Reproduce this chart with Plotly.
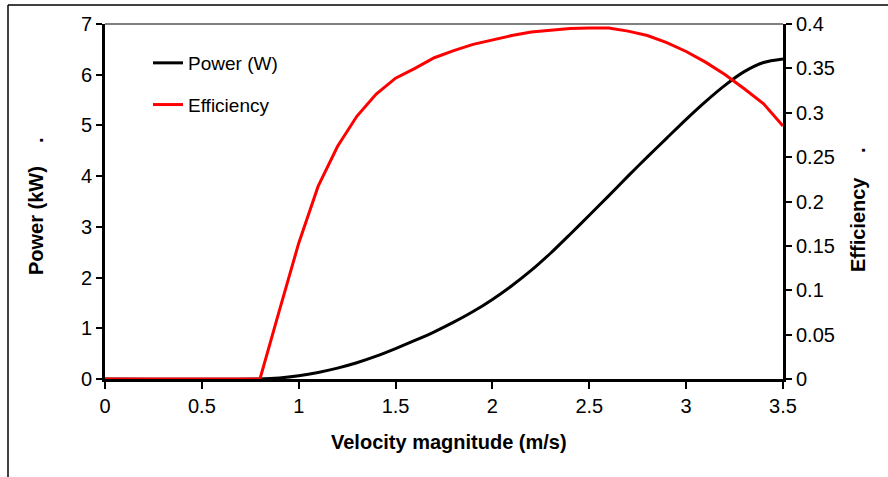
import plotly.graph_objects as go

# Velocity magnitude (m/s)
velocity = [0.0, 0.8, 0.9, 1.0, 1.1, 1.2, 1.3, 1.4, 1.5, 1.6, 1.7, 1.8, 1.9, 2.0,
            2.1, 2.2, 2.3, 2.4, 2.5, 2.6, 2.7, 2.8, 2.9, 3.0, 3.1, 3.2, 3.3, 3.4, 3.5]
# Power (kW)
power = [0.0, 0.0, 0.02, 0.065, 0.13, 0.215, 0.32, 0.45, 0.60, 0.76, 0.93, 1.12, 1.33, 1.57,
         1.84, 2.14, 2.48, 2.85, 3.23, 3.61, 4.00, 4.38, 4.75, 5.12, 5.47, 5.79, 6.06, 6.24, 6.31]
# Efficiency
efficiency = [0.0, 0.0, 0.077, 0.153, 0.217, 0.262, 0.296, 0.321, 0.339, 0.350, 0.362, 0.370,
              0.377, 0.382, 0.387, 0.391, 0.393, 0.395, 0.3955, 0.3955, 0.392, 0.387, 0.379,
              0.369, 0.357, 0.343, 0.327, 0.310, 0.285]

FONT = "Arial, Liberation Sans, sans-serif"

fig = go.Figure()
fig.add_trace(go.Scatter(x=velocity, y=power, name="Power (W)", mode="lines",
                         line=dict(color="black", width=3, shape="spline", smoothing=0.8),
                         legendgroup="a"))
fig.add_trace(go.Scatter(x=velocity, y=efficiency, name="Efficiency", mode="lines",
                         line=dict(color="#ff0000", width=3), yaxis="y2", legendgroup="b"))

# plot area: x 105..783, y 24..379 (px)
L, R, T, B = 105, 783, 24, 379
W, H = R - L, B - T
def px(x):
    return (x - L) / W
def py(y):
    return (B - y) / H

fig.update_layout(
    width=888, height=477,
    margin=dict(l=L, r=888 - R, t=T, b=477 - B),
    paper_bgcolor="white", plot_bgcolor="white",
    font=dict(family=FONT, size=20, color="black"),
    showlegend=True,
    legend=dict(x=px(148), y=py(44), xanchor="left", yanchor="top",
                bgcolor="rgba(0,0,0,0)", font=dict(size=19),
                tracegroupgap=14),
    xaxis=dict(range=[0, 3.5], dtick=0.5, tick0=0, showgrid=False, zeroline=False,
               showline=True, linecolor="black", linewidth=3,
               ticks="outside", ticklen=7, tickwidth=1.5, tickcolor="black",
               layer="below traces", tickfont=dict(size=20)),
    yaxis=dict(range=[0, 7], dtick=1, showgrid=False, zeroline=False,
               showline=True, linecolor="black", linewidth=3,
               ticks="outside", ticklen=6, tickwidth=1.5, tickcolor="black",
               layer="below traces", tickfont=dict(size=20)),
    yaxis2=dict(range=[0, 0.4], dtick=0.05, overlaying="y", side="right",
                showgrid=False, zeroline=False,
                showline=True, linecolor="black", linewidth=3,
                ticks="outside", ticklen=6, tickwidth=1.5, tickcolor="black",
                tickfont=dict(size=20)),
)

# top frame (gray) and outer chart border
fig.add_shape(type="line", xref="paper", yref="paper", x0=0, x1=1, y0=1, y1=1,
              line=dict(color="#808080", width=2), layer="below")
fig.add_shape(type="line", xref="paper", yref="paper", x0=px(8), x1=px(8),
              y0=py(5), y1=py(480), line=dict(color="black", width=1.5))
fig.add_shape(type="line", xref="paper", yref="paper", x0=px(8), x1=px(890),
              y0=py(5), y1=py(5), line=dict(color="black", width=1.5))

# axis titles
fig.add_annotation(text="<b>Velocity magnitude (m/s)</b>", xref="paper", yref="paper",
                   x=px(449), y=py(442), showarrow=False, font=dict(size=20),
                   xanchor="center", yanchor="middle")
fig.add_annotation(text="<b>Power (kW)</b>", xref="paper", yref="paper",
                   x=px(36), y=py(221), showarrow=False, font=dict(size=20),
                   textangle=-90, xanchor="center", yanchor="middle")
fig.add_annotation(text="<b>.</b>", xref="paper", yref="paper",
                   x=px(36), y=py(140), showarrow=False, font=dict(size=20),
                   textangle=-90, xanchor="center", yanchor="middle")
fig.add_annotation(text="<b>Efficiency</b>", xref="paper", yref="paper",
                   x=px(858), y=py(225), showarrow=False, font=dict(size=20),
                   textangle=-90, xanchor="center", yanchor="middle")
fig.add_annotation(text="<b>.</b>", xref="paper", yref="paper",
                   x=px(858), y=py(150), showarrow=False, font=dict(size=20),
                   textangle=-90, xanchor="center", yanchor="middle")

fig.write_html("out.html")
